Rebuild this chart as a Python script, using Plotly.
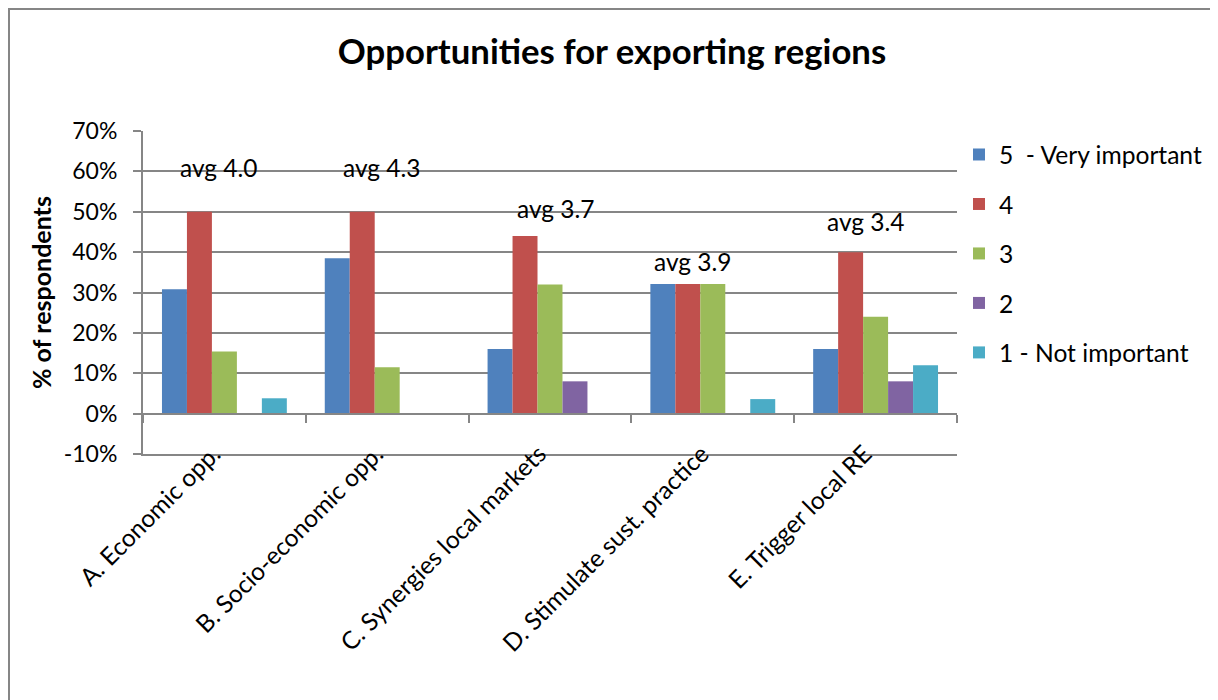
import plotly.graph_objects as go

categories = ["A. Economic opp.", "B. Socio-economic opp.", "C. Synergies local markets",
              "D. Stimulate sust. practice", "E. Trigger local RE"]
series_names = ["5  - Very important", "4", "3", "2", "1 - Not important"]
v5 = [30.8, 38.5, 16.0, 32.1, 16.0]
v4 = [50.0, 50.0, 44.0, 32.1, 40.0]
v3 = [15.4, 11.5, 32.0, 32.1, 24.0]
v2 = [0.0, 0.0, 8.0, 0.0, 8.0]
v1 = [3.8, 0.0, 0.0, 3.6, 12.0]
avg_labels = ["avg 4.0", "avg 4.3", "avg 3.7", "avg 3.9", "avg 3.4"]
y_ticks = [-10, 0, 10, 20, 30, 40, 50, 60, 70]

# label placement (styling)
avg_y = [60.9, 60.9, 50.8, 37.6, 47.5]
avg_xshift = [-6, -6, 5, -20, -10]

colors = ["#4F81BD", "#C0504D", "#9BBB59", "#8064A2", "#4BACC6"]
GRID = "#868686"
FONT = "Lato"

OFF = 8  # page body margin
W, H = 1218 - OFF, 700 - OFF
L, R, T, B = 143 - OFF, 957 - OFF, 131 - OFF, 454 - OFF
pw, ph = R - L, B - T

def px2x(px):
    return (px - L) / pw

def py2y(py):
    return (B - py) / ph

fig = go.Figure()
for name, vals, col in zip(series_names, [v5, v4, v3, v2, v1], colors):
    fig.add_trace(go.Bar(x=categories, y=vals, name=name, marker_color=col,
                         marker_line_width=0, legendgroup=name))

# invisible trace for the zero-line category axis (ticks at boundaries)
fig.add_trace(go.Scatter(x=categories, y=[0] * len(categories), xaxis="x2", yaxis="y",
                         mode="markers", marker=dict(opacity=0), showlegend=False,
                         hoverinfo="skip"))

annotations = []
for cat, lab, ay, xs in zip(categories, avg_labels, avg_y, avg_xshift):
    annotations.append(dict(x=cat, y=ay, xref="x", yref="y", text=lab, showarrow=False,
                            xshift=xs, xanchor="center", yanchor="middle",
                            font=dict(family=FONT, size=24.5, color="#000000")))
annotations.append(dict(x=px2x(41 - OFF), y=py2y(292 - OFF), xref="paper", yref="paper",
                        xanchor="center", yanchor="middle",
                        text="<b>% of respondents</b>", textangle=-90, showarrow=False,
                        font=dict(family=FONT, size=25, color="#000000")))

fig.update_layout(
    width=W, height=H,
    margin=dict(l=L, r=W - R, t=T, b=H - B, pad=0, autoexpand=False),
    paper_bgcolor="white", plot_bgcolor="white",
    barmode="group", bargap=0.233, bargroupgap=0,
    title=dict(text="<b>Opportunities for exporting regions</b>", x=(612 - OFF) / W,
               xref="container", xanchor="center", y=1 - (52 - OFF) / H, yref="container",
               yanchor="middle", font=dict(family=FONT, size=34.7, color="#000000")),
    legend=dict(x=px2x(959 - OFF), y=py2y(132 - OFF), xanchor="left", yanchor="top",
                font=dict(family=FONT, size=24.6, color="#000000"),
                traceorder="grouped", tracegroupgap=14.5, bgcolor="rgba(0,0,0,0)"),
    xaxis=dict(showgrid=False, showline=True, linecolor=GRID, linewidth=2, ticks="",
               tickangle=-45, tickfont=dict(family=FONT, size=24.5, color="#000000"),
               ticklabelstandoff=-26, ticklabelshift=-11, range=[-0.5, 4.5],
               automargin=False),
    xaxis2=dict(overlaying="x", anchor="free", position=10 / 80,
                showgrid=False, showline=True, linecolor=GRID, linewidth=2,
                ticks="outside", ticklen=8, tickwidth=1.5, tickcolor=GRID, tickson="boundaries",
                showticklabels=False, range=[-0.5, 4.5], side="bottom", automargin=False),
    yaxis=dict(range=[-10, 70], tickvals=y_ticks, ticktext=[f"{v}%" for v in y_ticks],
               showgrid=True, gridcolor=GRID, gridwidth=1.5, zeroline=False,
               showline=True, linecolor=GRID, linewidth=2, ticks="outside", ticklen=8,
               tickcolor=GRID, tickwidth=1.5, ticklabelstandoff=11, automargin=False,
               tickfont=dict(family=FONT, size=23, color="#000000")),
    annotations=annotations,
    shapes=[dict(type="rect", xref="paper", yref="paper",
                 x0=px2x(1), x1=px2x(1216 - OFF), y0=py2y(720), y1=py2y(1),
                 line=dict(color=GRID, width=2), fillcolor="rgba(0,0,0,0)", layer="below")],
)

fig.write_html("out.html")
